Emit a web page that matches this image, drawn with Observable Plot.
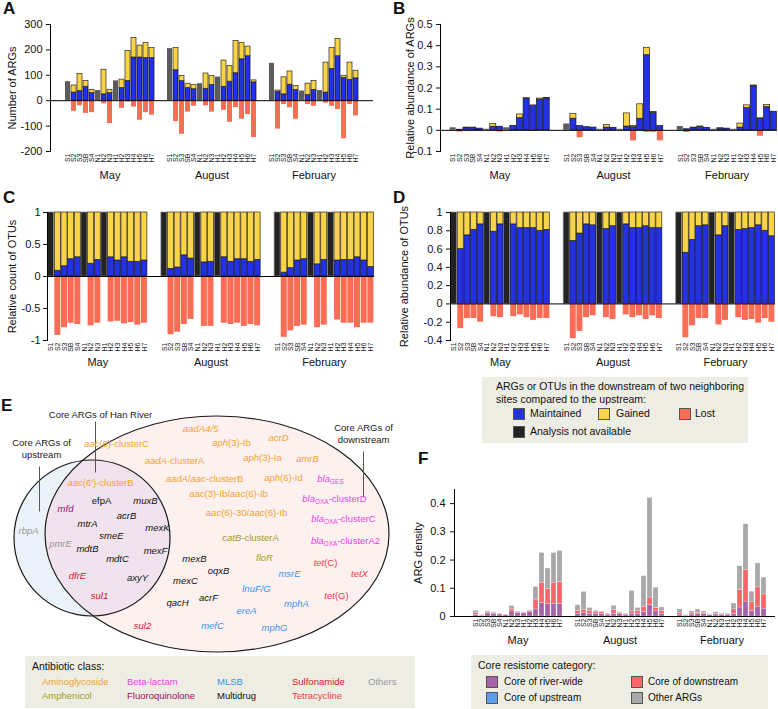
<!DOCTYPE html>
<html><head><meta charset="utf-8">
<script src="https://cdn.jsdelivr.net/npm/d3@7"></script>
<script src="https://cdn.jsdelivr.net/npm/@observablehq/plot@0.6"></script>
<style>
body{margin:0;background:#fff;font-family:"Liberation Sans",Arial,Helvetica,sans-serif;color:#111;}
#root{position:relative;width:778px;height:709px;overflow:hidden;}
.letter{position:absolute;font-weight:bold;font-size:17px;line-height:17px;}
.lg{position:absolute;background:#edede4;}
.lg .t{position:absolute;white-space:nowrap;}
.sw{position:absolute;width:12px;height:12px;box-sizing:border-box;border:0.6px solid #555;}
</style></head>
<body><div id="root"></div>
<script>
// ---------------- DATA ----------------
const months = ["May", "August", "February"];
const sites = ["S1","S2","S3","SB","S4","N1","N2","N3","H1","H2","H3","H4","H5","H6","H7"];
const naSites = ["S1","N1","H1"];

// Panel A: number of ARGs (rows: May, August, February)
const aMaintained = [
  [null,32,38,55,30,null,25,30,null,50,78,170,170,168,168],
  [null,120,77,50,45,null,47,62,null,55,75,108,163,175,72],
  [null,35,25,63,42,null,22,42,null,32,125,175,90,82,88]];
const aGained = [
  [null,28,67,23,12,null,97,12,null,33,118,77,47,59,39],
  [null,87,21,17,17,null,60,36,null,103,62,127,65,38,8],
  [null,5,67,52,16,null,45,35,null,118,83,68,8,68,30]];
const aLost = [
  [null,42,20,50,47,null,12,90,null,30,5,25,77,47,57],
  [null,82,132,45,22,null,20,45,null,38,85,27,73,55,145],
  [null,112,15,28,73,null,15,22,null,10,22,35,150,15,60]];
const aNA = [[75,40,78],[205,67,93],[147,38,40]];

// Panel B: relative abundance of ARGs
const bMaintained = [
  [null,0.003,0.010,0.012,0.008,null,0.017,0.017,null,0.020,0.058,0.150,0.115,0.145,0.150],
  [null,0.055,0.020,0.015,0.013,null,0.013,0.012,null,0.018,0.015,0.055,0.355,0.083,0.020],
  [null,0.005,0.010,0.017,0.012,null,0.008,0.008,null,0.013,0.105,0.208,0.055,0.110,0.088]];
const bGained = [
  [null,0,0.003,0.001,0,null,0.013,0,null,0,0.017,0.002,0.003,0.005,0.003],
  [null,0.023,0,0,0,null,0.012,0,null,0.062,0.005,0.068,0.035,0.004,0],
  [null,0,0.003,0.001,0,null,0.002,0,null,0.019,0.013,0.004,0.002,0.010,0]];
const bLost = [
  [null,0.008,0.001,0,0,null,0.003,0.008,null,0,0,0,0.004,0,0],
  [null,0,0.035,0,0,null,0.005,0,null,0,0.050,0,0.010,0.010,0.050],
  [null,0.010,0,0,0,null,0,0,null,0,0,0,0.028,0,0]];
const bNA = [[0.012,0.005,0.012],[0.030,0.005,0.005],[0.018,0.005,0.005]];

// Panel C: relative count of OTUs (maintained share; gained fills to 1)
const cMaintained = [
  [null,0.09,0.16,0.27,0.30,null,0.20,0.26,null,0.30,0.25,0.30,0.23,0.23,0.25],
  [null,0.12,0.14,0.33,0.28,null,0.22,0.23,null,0.30,0.23,0.27,0.27,0.23,0.26],
  [null,0.06,0.13,0.25,0.27,null,0.19,0.26,null,0.25,0.26,0.26,0.30,0.25,0.15]];
const cLost = [
  [null,0.92,0.80,0.73,0.75,null,0.77,0.73,null,0.71,0.70,0.74,0.72,0.76,0.73],
  [null,0.91,0.87,0.75,0.67,null,0.78,0.78,null,0.73,0.75,0.73,0.78,0.75,0.77],
  [null,0.95,0.85,0.78,0.76,null,0.80,0.76,null,0.68,0.73,0.73,0.80,0.73,0.73]];
const cNA = [[1,1,1],[1,1,1],[1,1,1]];

// Panel D: relative abundance of OTUs
const dMaintained = [
  [null,0.60,0.75,0.81,0.87,null,0.79,0.87,null,0.87,0.83,0.83,0.83,0.80,0.81],
  [null,0.69,0.77,0.87,0.86,null,0.82,0.85,null,0.87,0.83,0.83,0.85,0.83,0.83],
  [null,0.56,0.70,0.85,0.86,null,0.75,0.85,null,0.81,0.82,0.83,0.86,0.80,0.74]];
const dLost = [
  [null,0.27,0.16,0.16,0.20,null,0.14,0.15,null,0.14,0.12,0.15,0.18,0.16,0.16],
  [null,0.38,0.30,0.15,0.13,null,0.15,0.17,null,0.12,0.15,0.13,0.17,0.13,0.16],
  [null,0.37,0.24,0.16,0.16,null,0.23,0.18,null,0.15,0.18,0.17,0.21,0.16,0.20]];
const dNA = [[1,1,1],[1,1,1],[1,1,1]];

// Panel F: ARG density (cumulative readings)
const fRiverWide = [
  [0.006,0.003,0.011,0.010,0.007,0.005,0.018,0.013,0.011,0.015,0.025,0.047,0.045,0.045,0.044],
  [0.010,0.012,0.010,0.010,0.009,0.006,0.010,0.008,0.006,0.010,0.010,0.017,0.040,0.018,0.010],
  [0.006,0.003,0.007,0.008,0.008,0.005,0.007,0.006,0.006,0.010,0.032,0.053,0.020,0.035,0.028]];
const fUpstream = [
  [0,0,0,0,0,0,0,0,0,0,0,0,0,0,0],
  [0,0,0,0,0,0,0,0,0,0,0,0,0,0,0],
  [0,0,0,0,0,0,0,0,0,0,0,0,0,0,0]];
const fDownstreamTop = [
  [0.012,0.004,0.014,0.012,0.009,0.006,0.025,0.015,0.013,0.019,0.060,0.120,0.098,0.120,0.122],
  [0.020,0.023,0.020,0.017,0.015,0.008,0.022,0.012,0.008,0.018,0.020,0.035,0.067,0.030,0.020],
  [0.012,0.004,0.011,0.013,0.012,0.006,0.010,0.008,0.008,0.025,0.093,0.166,0.050,0.103,0.078]];
const fTotal = [
  [0.020,0.005,0.018,0.015,0.010,0.007,0.037,0.017,0.015,0.022,0.105,0.225,0.170,0.225,0.232],
  [0.040,0.087,0.030,0.020,0.017,0.010,0.038,0.015,0.010,0.090,0.030,0.143,0.420,0.102,0.032],
  [0.025,0.005,0.018,0.025,0.018,0.008,0.015,0.010,0.010,0.046,0.178,0.327,0.088,0.188,0.138]];

// Panel E: core resistome genes and antibiotic classes
const geneLabels = [
  "<i>aadA4/5</i>","<i>aac</i>(6)-clusterC","<i>aph</i>(3)-Ib","<i>acrD</i>","<i>aadA</i>-clusterA",
  "<i>aph</i>(3)-Ia","<i>amrB</i>","<i>aac</i>(6')-clusterB","<i>aadA</i>/<i>aac</i>-clusterB","<i>aph</i>(6)-Id",
  "<i>bla</i><sub>GES</sub>","aac(3)-Ib/<i>aac</i>(6)-Ib","<i>bla</i><sub>OXA</sub>-clusterD","<i>aac</i>(6)-30/<i>aac</i>(6)-Ib","<i>bla</i><sub>OXA</sub>-clusterC",
  "<i>bla</i><sub>OXA</sub>-clusterA2","<i>catB</i>-clusterA","<i>floR</i>","<i>tet</i>(C)","<i>tetX</i>",
  "<i>msrE</i>","<i>lnuF/G</i>","<i>tet</i>(G)","<i>mphA</i>","<i>ereA</i>",
  "<i>mefC</i>","<i>mphG</i>","<i>sul2</i>","<i>mexB</i>","<i>oqxB</i>",
  "<i>mexC</i>","<i>acrF</i>","<i>qacH</i>","efpA","<i>muxB</i>",
  "<i>mfd</i>","<i>acrB</i>","<i>mtrA</i>","<i>mexK</i>","<i>smeE</i>",
  "<i>mdtB</i>","<i>mexF</i>","<i>mdtC</i>","<i>dfrE</i>","<i>axyY</i>",
  "<i>sul1</i>","<i>rbpA</i>","<i>pmrE</i>"];
const geneClass = [
  "Aminoglycoside","Aminoglycoside","Aminoglycoside","Aminoglycoside","Aminoglycoside",
  "Aminoglycoside","Aminoglycoside","Aminoglycoside","Aminoglycoside","Aminoglycoside",
  "Beta-lactam","Aminoglycoside","Beta-lactam","Aminoglycoside","Beta-lactam",
  "Beta-lactam","Amphenicol","Amphenicol","Tetracycline","Tetracycline",
  "MLSB","MLSB","Tetracycline","MLSB","MLSB",
  "MLSB","MLSB","Sulfonamide","Multidrug","Multidrug",
  "Multidrug","Multidrug","Multidrug","Multidrug","Multidrug",
  "Fluoroquinolone","Multidrug","Multidrug","Multidrug","Multidrug",
  "Multidrug","Multidrug","Multidrug","Sulfonamide","Multidrug",
  "Sulfonamide","Others","Others"];
const classNames = ["Aminoglycoside","Amphenicol","Beta-lactam","Fluoroquinolone","MLSB","Multidrug","Sulfonamide","Tetracycline","Others"];

// ---------------- STYLE / LAYOUT ----------------
const FONT = '"Liberation Sans", Arial, Helvetica, sans-serif';
const BLUE = "#2331e3", YELLOW = "#f8d44b", SALMON = "#fd6d55";
const classColors = ["#f2a230","#a39c1c","#ee3fe6","#9a0f5e","#3b93ee","#111111","#cf1530","#ef3d42","#9a9a9a"];
const fColors = {river: "#a763a7", up: "#5d9ced", down: "#f7666b", other: "#a8a8a8"};
// gene label positions (page pixels) for the Venn layout
const genePos = [
  [200,428],[116,443],[231,442],[278,437],[174,460],[262,457],[307,458],[100,482],[204,478],[283,477],
  [330,478],[228,493],[334,498],[246,512],[343,518],[345,540],[250,537],[264,557],[325,562],[359,573],
  [289,573],[256,588],[336,595],[296,603],[246,610],[212,625],[274,627],[142,625],[194,558],[218,570],
  [185,580],[208,597],[177,602],[101,500],[145,500],[65,508],[126,515],[87,523],[157,527],[111,535],
  [87,548],[155,550],[117,558],[77,575],[137,577],[99,595],[28,530],[60,543]];
const vennShapes = [
  {name: "downstream", cx: 217, cy: 534, rx: 172, ry: 118},
  {name: "upstream", cx: 92, cy: 538, rx: 78, ry: 78}];
const vennNotes = [
  {text: "Core ARGs of Han River", x: 100, y: 414, x1: 95, y1: 421, x2: 95, y2: 472},
  {text: "Core ARGs of\nupstream", x: 41, y: 448, x1: 39, y1: 466, x2: 39, y2: 511},
  {text: "Core ARGs of\ndownstream", x: 363, y: 433, x1: 363, y1: 451, x2: 363, y2: 497}];

const root = document.getElementById("root");
function place(node, left, top) {
  const d = document.createElement("div");
  d.style.cssText = `position:absolute;left:${left}px;top:${top}px;`;
  d.appendChild(node); root.appendChild(d); return d;
}
function html(str, css, cls) {
  const d = document.createElement("div");
  if (cls) d.className = cls;
  d.style.cssText = css; d.innerHTML = str; root.appendChild(d); return d;
}

// ---------------- BAR PANELS ----------------
const key = (mi, s) => months[mi] + "|" + s;
const xDomain = [];
months.forEach((m, mi) => {
  if (mi > 0) xDomain.push("gap" + mi + "a", "gap" + mi + "b");
  sites.forEach(s => xDomain.push(key(mi, s)));
});
const realKeys = xDomain.filter(k => k.includes("|"));
const midSite = sites[7];

function segments(maint, gained, lost, na) {
  const rows = [];
  months.forEach((m, mi) => {
    sites.forEach((s, si) => {
      const x = key(mi, s);
      if (naSites.includes(s)) { rows.push({x, cat: "na", y1: 0, y2: na[mi][naSites.indexOf(s)]}); return; }
      const a = maint[mi][si], g = gained[mi][si], l = lost[mi][si];
      rows.push({x, cat: "Maintained", y1: 0, y2: a});
      if (g > 0) rows.push({x, cat: "Gained", y1: a, y2: a + g});
      if (l > 0) rows.push({x, cat: "Lost", y1: -l, y2: 0});
    });
  });
  return rows;
}
const fillTo1 = arr => arr.map(r => r.map(v => v == null ? null : 1 - v));

function barPanel(o) {
  const cats = [
    ["na", o.naFill, o.naStroke],
    ["Maintained", BLUE, "#0b0b2a"],
    ["Gained", YELLOW, "#2e2810"],
    ["Lost", SALMON, "none"]];
  return Plot.plot({
    width: o.width, height: o.height,
    marginLeft: o.ml, marginRight: o.mr, marginTop: o.mt, marginBottom: o.mb,
    style: {fontFamily: FONT, fontSize: "11px", background: "transparent", color: "#111"},
    x: {domain: xDomain, padding: 0.1, insetLeft: o.insetLeft || 0, axis: null},
    y: {domain: o.yDomain, axis: null},
    marks: [
      ...cats.map(([c, fill, stroke]) => Plot.barY(o.rows.filter(d => d.cat === c),
        {x: "x", y1: "y1", y2: "y2", fill, stroke, strokeWidth: 0.7})),
      Plot.ruleY([0], {stroke: "#000", strokeWidth: 1}),
      Plot.frame({anchor: "left", stroke: "#000", strokeWidth: 1}),
      Plot.axisY({ticks: o.yTicks, tickFormat: d => String(d), tickSize: 4, tickPadding: o.tickPad || 4,
        fontSize: 11, label: o.yLabel, labelAnchor: "center", labelArrow: "none", labelOffset: o.labelOffset}),
      Plot.axisX({ticks: realKeys, tickFormat: d => d.split("|")[1], tickRotate: -90, tickSize: 0,
        tickPadding: 2, fontSize: 7, label: null, fill: "#222"}),
      Plot.text(months, {x: (m, i) => key(i, midSite), text: d => d, frameAnchor: "bottom", dy: o.monthDy, fontSize: 11})
    ]
  });
}

place(barPanel({rows: segments(aMaintained, aGained, aLost, aNA), yDomain: [-200, 300],
  yTicks: [-200,-100,0,100,200,300], yLabel: "Number of ARGs", width: 390, height: 190,
  ml: 50, mr: 17, mt: 24, mb: 39, naFill: "#5b5b5b", naStroke: "none", labelOffset: 42, monthDy: 27}), 0, 0);

place(barPanel({rows: segments(bMaintained, bGained, bLost, bNA), yDomain: [-0.1, 0.5],
  yTicks: [-0.1,0,0.1,0.2,0.3,0.4,0.5], yLabel: "Relative abundance of ARGs", width: 388, height: 190,
  ml: 50, mr: 1, mt: 24, mb: 39, insetLeft: 9, naFill: "#5b5b5b", naStroke: "none", labelOffset: 34, monthDy: 27}), 390, 0);

place(barPanel({rows: segments(cMaintained, fillTo1(cMaintained), cLost, cNA), yDomain: [-1, 1],
  yTicks: [-1,-0.5,0,0.5,1], yLabel: "Relative count of OTUs", width: 390, height: 190,
  ml: 47, mr: 16, mt: 27, mb: 35, naFill: "#232323", naStroke: "#8a8a8a", labelOffset: 39, tickPad: 3, monthDy: 25}), 0, 185);

place(barPanel({rows: segments(dMaintained, fillTo1(dMaintained), dLost, dNA), yDomain: [-0.4, 1],
  yTicks: [-0.4,-0.2,0,0.2,0.4,0.6,0.8,1], yLabel: "Relative abundance of OTUs", width: 388, height: 190,
  ml: 60, mr: 3, mt: 27, mb: 35, naFill: "#232323", naStroke: "#8a8a8a", labelOffset: 50, monthDy: 25}), 390, 185);

// ---------------- PANEL F ----------------
const fRows = [];
months.forEach((m, mi) => sites.forEach((s, si) => {
  const x = key(mi, s);
  const r = fRiverWide[mi][si], u = fUpstream[mi][si], dt = fDownstreamTop[mi][si], t = fTotal[mi][si];
  fRows.push({x, cat: "river", y1: 0, y2: r});
  fRows.push({x, cat: "up", y1: r, y2: r + u});
  fRows.push({x, cat: "down", y1: r + u, y2: Math.max(dt, r + u)});
  fRows.push({x, cat: "other", y1: Math.max(dt, r + u), y2: t});
}));
const chartF = Plot.plot({
  width: 378, height: 170, marginLeft: 54, marginRight: 3, marginTop: 9, marginBottom: 34,
  style: {fontFamily: FONT, fontSize: "11px", background: "transparent", color: "#111"},
  x: {domain: xDomain, padding: 0.1, insetLeft: 10, axis: null},
  y: {domain: [0, 0.45], axis: null},
  marks: [
    ...["river", "up", "down", "other"].map(c => Plot.barY(fRows.filter(d => d.cat === c && d.y2 > d.y1),
      {x: "x", y1: "y1", y2: "y2", fill: fColors[c], stroke: "#fff", strokeWidth: 0.4, strokeOpacity: 0.6})),
    Plot.ruleY([0], {stroke: "#000", strokeWidth: 1}),
    Plot.frame({anchor: "left", stroke: "#000", strokeWidth: 1}),
    Plot.axisY({ticks: [0,0.1,0.2,0.3,0.4], tickFormat: d => String(d), tickSize: 4, tickPadding: 5,
      fontSize: 11, label: "ARG density", labelAnchor: "center", labelArrow: "none", labelOffset: 40}),
    Plot.axisX({ticks: realKeys, tickFormat: d => d.split("|")[1], tickRotate: -90, tickSize: 0,
      tickPadding: 2, fontSize: 7, label: null, fill: "#222"}),
    Plot.text(months, {x: (m, i) => key(i, midSite), text: d => d, frameAnchor: "bottom", dy: 27, fontSize: 11})
  ]
});
place(chartF, 400, 480);

// ---------------- PANEL E ----------------
const genes = geneLabels.map((g, i) => ({label: g, cls: geneClass[i], x: genePos[i][0], y: genePos[i][1]}));
const chartE = Plot.plot({
  width: 420, height: 256, margin: 0,
  style: {fontFamily: FONT, fontSize: "9.5px", background: "transparent", color: "#111"},
  x: {domain: [0, 420], range: [0, 420], axis: null},
  y: {domain: [400, 656], range: [0, 256], axis: null},
  marks: [
    Plot.link(vennNotes, {x1: "x1", y1: "y1", x2: "x2", y2: "y2", stroke: "#555", strokeWidth: 1}),
    Plot.text(vennNotes, {x: "x", y: "y", text: "text", fontSize: 9.5, fill: "#1a1a1a", lineHeight: 1.25}),
    Plot.text(genes, {x: "x", y: "y", text: "label", fontSize: 9.5,
      fill: d => classColors[classNames.indexOf(d.cls)]})
  ]
});
(function decorateE() {
  const sx = chartE.scale("x"), sy = chartE.scale("y");
  const svg = d3.select(chartE);
  const g = svg.insert("g", "g");
  const [big, small] = vennShapes;
  const geom = s => ({cx: sx.apply(s.cx), cy: sy.apply(s.cy),
    rx: sx.apply(s.cx + s.rx) - sx.apply(s.cx), ry: sy.apply(s.cy + s.ry) - sy.apply(s.cy)});
  const B = geom(big), S = geom(small);
  const ell = (sel, E) => sel.attr("cx", E.cx).attr("cy", E.cy).attr("rx", E.rx).attr("ry", E.ry);
  ell(g.append("defs").append("clipPath").attr("id", "bigClip").append("ellipse"), B);
  ell(g.append("ellipse"), B).attr("fill", "#fdf1ef");
  ell(g.append("ellipse"), S).attr("fill", "#ebf2fa");
  ell(g.append("ellipse"), S).attr("fill", "#f0e3ee").attr("clip-path", "url(#bigClip)");
  for (const E of [B, S]) ell(g.append("ellipse"), E)
    .attr("fill", "none").attr("stroke", "#1b1b1b").attr("stroke-width", 1.2);
  // rich text (italics, subscripts)
  svg.selectAll("text").each(function () {
    const src = this.textContent;
    if (!src.includes("<")) return;
    const parts = src.split(/(<i>.*?<\/i>|<sub>.*?<\/sub>)/).filter(p => p !== "");
    this.textContent = "";
    let shifted = false;
    for (const p of parts) {
      const ts = document.createElementNS("http://www.w3.org/2000/svg", "tspan");
      let txt = p;
      if (p.startsWith("<i>")) { txt = p.slice(3, -4); ts.setAttribute("font-style", "italic"); }
      if (p.startsWith("<sub>")) { txt = p.slice(5, -6); ts.setAttribute("font-size", "6.5"); ts.setAttribute("dy", "2.5"); shifted = true; }
      else if (shifted) { ts.setAttribute("dy", "-2.5"); shifted = false; }
      ts.textContent = txt;
      this.appendChild(ts);
    }
  });
})();
place(chartE, 0, 400);

// ---------------- LEGENDS & LETTERS ----------------
html("A", "left:3px;top:0px;", "letter");
html("B", "left:393px;top:0px;", "letter");
html("C", "left:3px;top:189px;", "letter");
html("D", "left:393px;top:189px;", "letter");
html("E", "left:1px;top:397px;", "letter");
html("F", "left:418px;top:450px;", "letter");

const lgAD = html("", "left:482px;top:377px;width:266px;height:66px;", "lg");
lgAD.innerHTML = `
 <div class="t" style="left:14px;top:3px;font-size:10.5px;line-height:12.5px;">ARGs or OTUs in the downstream of two neighboring<br>sites compared to the upstream:</div>
 <div class="sw" style="left:31px;top:31px;background:${BLUE}"></div><div class="t" style="left:48px;top:30px;font-size:10.5px;">Maintained</div>
 <div class="sw" style="left:116px;top:31px;background:${YELLOW}"></div><div class="t" style="left:134px;top:30px;font-size:10.5px;">Gained</div>
 <div class="sw" style="left:197px;top:31px;background:${SALMON}"></div><div class="t" style="left:213px;top:30px;font-size:10.5px;">Lost</div>
 <div class="sw" style="left:31px;top:49px;background:#232323"></div><div class="t" style="left:48px;top:48px;font-size:10.5px;">Analysis not available</div>`;

const lgE = html("", "left:25px;top:656px;width:390px;height:52px;", "lg");
const ePos = {Aminoglycoside:[17,20], "Beta-lactam":[102,20], MLSB:[192,20], Sulfonamide:[267,20], Others:[343,20],
  Amphenicol:[17,34], Fluoroquinolone:[102,34], Multidrug:[192,34], Tetracycline:[267,34]};
lgE.innerHTML = `<div class="t" style="left:7px;top:4px;font-size:10.5px;">Antibiotic class:</div>` +
  classNames.map((c, i) => `<div class="t" style="left:${ePos[c][0]}px;top:${ePos[c][1]}px;font-size:9.5px;color:${classColors[i]}">${c}</div>`).join("");

const lgF = html("", "left:471px;top:655px;width:297px;height:54px;", "lg");
lgF.innerHTML = `
 <div class="t" style="left:7px;top:4px;font-size:10.5px;">Core resistome category:</div>
 <div class="sw" style="left:15px;top:21px;background:${fColors.river}"></div><div class="t" style="left:33px;top:21px;font-size:10px;">Core of river-wide</div>
 <div class="sw" style="left:160px;top:21px;background:${fColors.down}"></div><div class="t" style="left:177px;top:21px;font-size:10px;">Core of downstream</div>
 <div class="sw" style="left:15px;top:37px;background:${fColors.up}"></div><div class="t" style="left:33px;top:37px;font-size:10px;">Core of upstream</div>
 <div class="sw" style="left:160px;top:37px;background:${fColors.other}"></div><div class="t" style="left:177px;top:37px;font-size:10px;">Other ARGs</div>`;
</script>
</body></html>
